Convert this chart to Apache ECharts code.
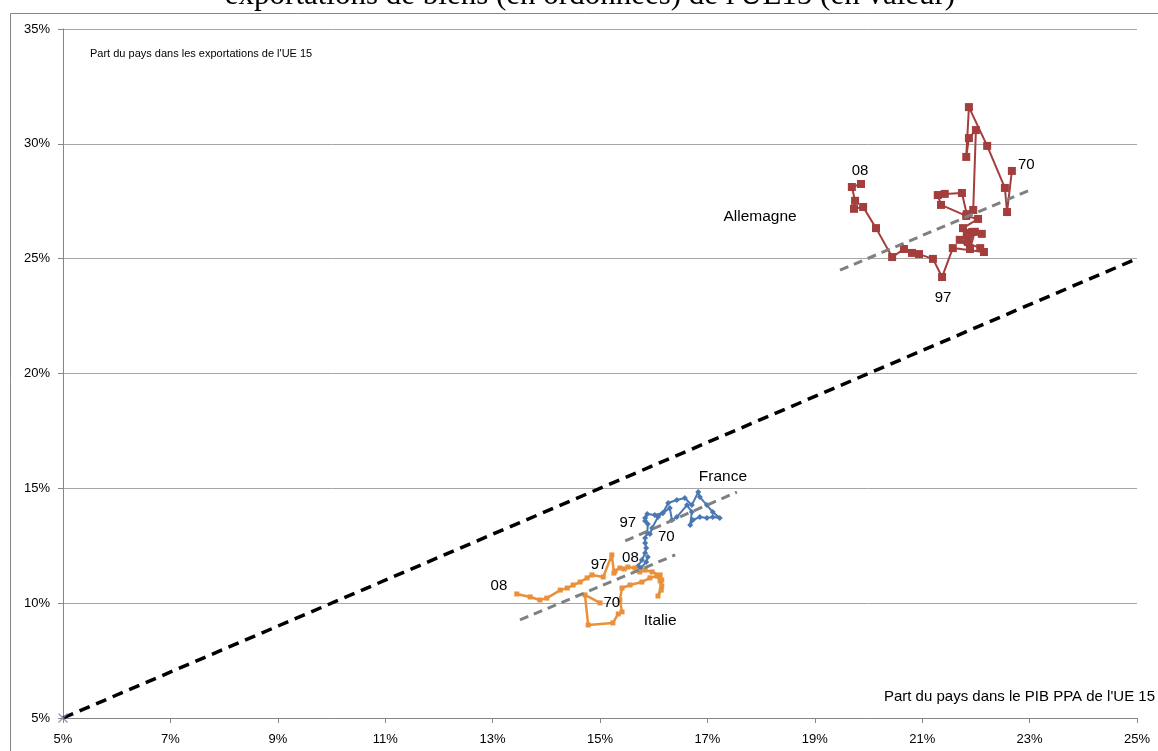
<!DOCTYPE html>
<html><head><meta charset="utf-8">
<script src="https://cdn.jsdelivr.net/npm/echarts@6/dist/echarts.min.js"></script>
<style>html,body{margin:0;padding:0;background:#fff}#c{width:1158px;height:751px}</style>
</head><body><div id="c"></div>
<script>
// ---- data (percent of EU15) : [share of GDP PPP, share of exports] ----
const years = ['70','97','08'];
const germany = [[22.67,28.82],[22.58,27.03],[22.54,28.08],[22.21,29.91],[21.87,31.60],[21.82,29.43],[21.87,30.25],[22.00,30.60],[21.95,27.12],[21.83,26.94],[21.74,27.86],[21.42,27.82],[21.29,27.77],[21.35,27.34],[21.82,26.86],[22.04,26.73],[21.76,26.33],[21.93,26.16],[22.11,26.08],[21.83,26.03],[21.85,25.73],[21.98,26.17],[21.89,25.42],[21.70,25.82],[22.08,25.46],[22.15,25.29],[21.57,25.46],[21.37,24.20],[21.20,24.99],[20.94,25.20],[20.81,25.25],[20.66,25.42],[20.44,25.07],[20.14,26.33],[19.90,27.25],[19.73,27.17],[19.75,27.52],[19.69,28.12],[19.86,28.25]];
const france = [[15.93,13.01],[15.97,13.27],[16.08,13.75],[16.17,13.93],[16.27,14.36],[16.43,14.49],[16.58,14.58],[16.71,14.27],[16.83,14.84],[16.86,14.62],[16.99,14.27],[17.10,13.97],[17.23,13.71],[17.10,13.75],[16.99,13.71],[16.86,13.75],[16.73,13.62],[16.68,13.40],[16.71,13.97],[16.62,14.27],[16.43,13.75],[16.34,13.62],[16.30,14.14],[16.17,13.93],[16.02,13.84],[15.88,13.88],[15.84,13.71],[15.84,13.58],[15.89,13.45],[15.88,13.05],[15.84,12.84],[15.84,12.62],[15.86,12.40],[15.84,12.18],[15.78,11.88],[15.71,11.62],[15.76,11.53],[15.86,11.79],[15.89,12.01]];
const italy = [[15.00,10.01],[14.72,10.36],[14.78,9.05],[15.24,9.14],[15.34,9.53],[15.41,9.62],[15.37,10.14],[15.41,10.66],[15.56,10.79],[15.78,10.92],[15.93,11.10],[16.06,11.18],[16.12,10.97],[16.15,10.75],[16.08,10.31],[16.14,10.57],[16.15,11.01],[16.12,11.23],[15.97,11.36],[15.84,11.44],[15.74,11.36],[15.65,11.53],[15.52,11.57],[15.45,11.49],[15.37,11.53],[15.28,11.40],[15.26,11.31],[15.22,12.10],[15.06,11.14],[14.85,11.23],[14.76,11.10],[14.63,10.92],[14.50,10.79],[14.39,10.66],[14.26,10.57],[14.01,10.22],[13.88,10.14],[13.70,10.27],[13.45,10.40]];
const trendGermany = [[19.47,24.50],[23.01,27.99]];
const trendFrance = [[15.47,12.71],[17.55,14.84]];
const trendItaly = [[13.51,9.27],[16.40,12.10]];
const diagonal = [[5,5],[25,25]];
const origin = [[5,5]];
const countryNames = [['Allemagne',17.98,26.81],['France',17.29,15.49],['Italie',16.12,9.22]];
const xTicks = {min:5, max:25, step:2};
const yTicks = {min:5, max:35, step:5};
const titleText = "exportations de biens (en ordonnées) de l'UE15 (en valeur)";
const yAxisName = "Part du pays dans les exportations de l'UE 15";
const xAxisName = "Part du pays dans le PIB PPA de l'UE 15";

// x axis is drawn shifted by its minimum so ticks start at the minimum
const X0 = xTicks.min;
const sx = arr => arr.map(p => [p[0]-X0, p[1]]);

const FONT = '"Liberation Sans", Arial, sans-serif';
const yearIdx = [0, 27, 38];
function withLabels(arr, pos) {
  return sx(arr).map((p, i) => {
    const k = yearIdx.indexOf(i);
    if (k < 0) return p;
    return {value: p, label: Object.assign({show:true, formatter: years[k], color:'#000', fontSize:15, fontFamily:FONT}, pos[k])};
  });
}

const chart = echarts.init(document.getElementById('c'), null, {renderer:'canvas'});
const lineStyleTrend = {color:'#808080', width:3, type:[9,6]};
chart.setOption({
  animation:false,
  backgroundColor:'#fff',
  grid:{left:63, right:21, top:29, bottom:33, containLabel:false},
  xAxis:{type:'value', min:0, max:xTicks.max-X0, interval:xTicks.step,
    axisLine:{show:true, onZero:false, lineStyle:{color:'#868686', width:1}},
    axisTick:{show:true, inside:false, length:5, lineStyle:{color:'#868686'}},
    splitLine:{show:false},
    axisLabel:{formatter:v => (v+X0)+'%', color:'#000', fontSize:13, fontFamily:FONT, margin:15}},
  yAxis:{type:'value', min:yTicks.min, max:yTicks.max, interval:yTicks.step,
    axisLine:{show:true, onZero:false, lineStyle:{color:'#868686', width:1}},
    axisTick:{show:true, length:5, lineStyle:{color:'#868686'}},
    splitLine:{show:true, lineStyle:{color:'#a6a6a6', width:1}},
    axisLabel:{formatter:v => v+'%', color:'#000', fontSize:13, fontFamily:FONT, margin:13}},
  graphic:[
    {type:'rect', shape:{x:10.5, y:13.5, width:1200, height:800}, style:{fill:'none', stroke:'#868686', lineWidth:1}, silent:true, z:-1},
    {type:'text', x:590, y:11, style:{text:titleText, font:'31px "Liberation Serif", serif', fill:'#000', align:'center', verticalAlign:'bottom'}},
    {type:'text', x:90, y:48, style:{text:yAxisName, font:'11px '+FONT, fill:'#000'}},
    {type:'text', x:1155, y:689, style:{text:xAxisName, font:'15px '+FONT, fill:'#000', align:'right'}}
  ],
  series:[
    {type:'line', data:sx(diagonal), symbol:'none', lineStyle:{color:'#000', width:3.5, type:[11,7]}, z:2},
    {type:'scatter', data:sx(origin), symbol:'path://M0,1L1,0L5,4L9,0L10,1L6,5L10,9L9,10L5,6L1,10L0,9L4,5Z', symbolSize:10, itemStyle:{color:'#8a7cae'}, z:5},
    {type:'line', data:sx(trendGermany), symbol:'none', lineStyle:lineStyleTrend, z:4},
    {type:'line', data:sx(trendFrance), symbol:'none', lineStyle:lineStyleTrend, z:4},
    {type:'line', data:sx(trendItaly), symbol:'none', lineStyle:lineStyleTrend, z:4},
    {type:'line', data:withLabels(germany, [{position:'right', offset:[-3,-6]},{position:'bottom', offset:[1,4]},{position:'top', offset:[-1,3]}]),
      symbol:'rect', symbolSize:8, lineStyle:{color:'#a33e3c', width:2}, itemStyle:{color:'#a33e3c'}, z:3},
    {type:'line', data:withLabels(france, [{position:'right', offset:[0,3]},{position:'left', offset:[-1,2]},{position:'left', offset:[-1,1]}]),
      symbol:'diamond', symbolSize:6, lineStyle:{color:'#4a78b2', width:2}, itemStyle:{color:'#4a78b2'}, z:3},
    {type:'line', data:withLabels(italy, [{position:'right', offset:[-4,0]},{position:'left', offset:[3,10]},{position:'left', offset:[-2,-8]}]),
      symbol:'rect', symbolSize:5, lineStyle:{color:'#e8913a', width:2.5}, itemStyle:{color:'#e8913a'}, z:3},
    {type:'scatter', data:countryNames.map(c => ({value:[c[1]-X0, c[2]], name:c[0]})), symbolSize:1, itemStyle:{opacity:0},
      label:{show:true, position:'inside', formatter:p => p.name, color:'#000', textBorderWidth:0, opacity:1, fontSize:15.5, fontFamily:FONT}, z:6}
  ]
});
</script></body></html>
